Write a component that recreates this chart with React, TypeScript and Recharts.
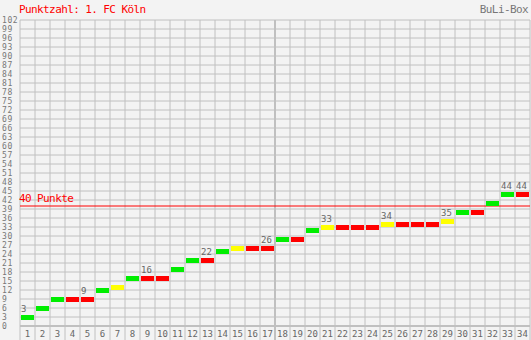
import { ComposedChart, Scatter, XAxis, YAxis, CartesianGrid, ReferenceLine } from 'recharts';

const days = [1, 2, 3, 4, 5, 6, 7, 8, 9, 10, 11, 12, 13, 14, 15, 16, 17, 18, 19, 20, 21, 22, 23, 24, 25, 26, 27, 28, 29, 30, 31, 32, 33, 34];
const points = [3, 6, 9, 9, 9, 12, 13, 16, 16, 16, 19, 22, 22, 25, 26, 26, 26, 29, 29, 32, 33, 33, 33, 33, 34, 34, 34, 34, 35, 38, 38, 41, 44, 44];
// S = Sieg, U = Unentschieden, N = Niederlage
const results = ['S', 'S', 'S', 'N', 'N', 'S', 'U', 'S', 'N', 'N', 'S', 'S', 'N', 'S', 'U', 'N', 'N', 'S', 'N', 'S', 'U', 'N', 'N', 'N', 'U', 'N', 'N', 'N', 'U', 'S', 'N', 'S', 'S', 'N'];
const labelDays = [1, 5, 9, 13, 17, 21, 25, 29, 33, 34];
const yTicks = Array.from({ length: 35 }, (_, i) => i * 3);
const boundaries = [0.5, ...days.map((d) => d + 0.5)];

const colors: Record<string, string> = { S: '#00ee00', U: '#ffff00', N: '#ff0000' };

const data = days.map((d, i) => ({
  day: d,
  pts: points[i],
  fill: colors[results[i]],
  label: labelDays.includes(d) ? String(points[i]) : '',
}));

const W = 531;
const H = 340;
const LEFT = 20;
const RIGHT = 1;
const HALF = (W - LEFT - RIGHT) / days.length / 2;
const FONT = '"DejaVu Sans Mono", monospace';
const GRID = '#c0c0c0';

function Marker(props: any) {
  const { cx, cy, payload } = props;
  return (
    <g>
      <rect x={cx - 6.5} y={cy - 2} width={13} height={5} fill={payload.fill} />
      {payload.label && (
        <text x={cx - 6.5} y={cy - 5} fill="#666" fontSize={9} fontFamily={FONT} textAnchor="start">
          {payload.label}
        </text>
      )}
    </g>
  );
}

function XTick(props: any) {
  const { x, y, payload } = props;
  const d = payload.value;
  return (
    <g>
      <line x1={x - HALF} y1={y} x2={x - HALF} y2={H} stroke={GRID} strokeWidth={d === 18 ? 2 : 1} />
      {d === days[days.length - 1] && <line x1={x + HALF} y1={y} x2={x + HALF} y2={H} stroke={GRID} />}
      <text x={x} y={y + 11} fill="#666" fontSize={9} fontFamily={FONT} textAnchor="middle">
        {d}
      </text>
    </g>
  );
}

function YTick(props: any) {
  const { y, payload } = props;
  return (
    <text x={2} y={y + 3} fill="#777" fontSize={8} letterSpacing={0.6} fontFamily={FONT} textAnchor="start">
      {payload.value}
    </text>
  );
}

export default function App() {
  return (
    <div style={{ position: 'absolute', left: 0, top: 0, width: W, height: H, background: '#f3f3f3' }}>
      <div style={{ position: 'absolute', left: 19, top: 3, color: '#ff0000', fontFamily: FONT, fontSize: 11, letterSpacing: -0.6 }}>
        Punktzahl: 1. FC Köln
      </div>
      <div style={{ position: 'absolute', right: 3, top: 3, color: '#777', fontFamily: FONT, fontSize: 11, letterSpacing: -0.6 }}>
        BuLi-Box
      </div>
      <ComposedChart width={W} height={H} data={data} margin={{ top: 20, right: RIGHT, bottom: 0, left: 0 }}>
        <CartesianGrid vertical={false} stroke={GRID} />
        {boundaries.map((b) => (
          <ReferenceLine key={b} x={b} stroke={GRID} strokeWidth={b === 17.5 ? 2 : 1} />
        ))}
        <XAxis
          dataKey="day"
          type="number"
          domain={[0.5, 34.5]}
          ticks={days}
          interval={0}
          height={14}
          tickSize={0}
          tickMargin={0}
          tickLine={false}
          axisLine={{ stroke: GRID, strokeWidth: 2 }}
          tick={<XTick />}
        />
        <YAxis
          type="number"
          domain={[0, 102]}
          ticks={yTicks}
          interval={0}
          width={LEFT}
          axisLine={false}
          tickLine={false}
          tick={<YTick />}
        />
        <ReferenceLine
          y={40}
          stroke="#ff0000"
          label={(p: any) => (
            <text x={p.viewBox.x - 1} y={p.viewBox.y - 4} fill="#ff0000" fontSize={11} letterSpacing={-0.6} fontFamily={FONT}>
              40 Punkte
            </text>
          )}
        />
        <Scatter dataKey="pts" shape={<Marker />} isAnimationActive={false} />
      </ComposedChart>
    </div>
  );
}
